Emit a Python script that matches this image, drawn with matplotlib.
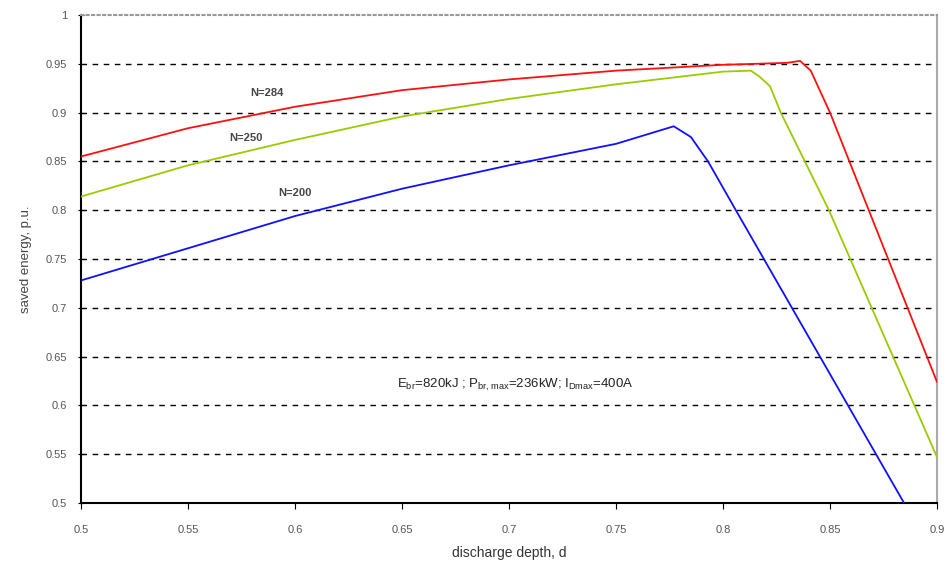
import matplotlib
matplotlib.use('Agg')
import matplotlib.pyplot as plt

plt.rcParams['font.family'] = ['Liberation Sans', 'DejaVu Sans']
plt.rcParams['mathtext.default'] = 'regular'

# N=284
d_284 = [0.5, 0.55, 0.6, 0.65, 0.7, 0.75, 0.8, 0.83, 0.836, 0.841, 0.85, 0.9]
e_284 = [0.855, 0.884, 0.906, 0.923, 0.934, 0.943, 0.949, 0.951, 0.953, 0.943, 0.9, 0.624]
# N=250
d_250 = [0.5, 0.55, 0.6, 0.65, 0.7, 0.75, 0.8, 0.813, 0.817, 0.822, 0.827, 0.8495, 0.9]
e_250 = [0.814, 0.846, 0.872, 0.896, 0.914, 0.929, 0.942, 0.943, 0.937, 0.927, 0.9, 0.8, 0.547]
# N=200
d_200 = [0.5, 0.55, 0.6, 0.65, 0.7, 0.75, 0.777, 0.785, 0.793, 0.806, 0.8846]
e_200 = [0.728, 0.761, 0.794, 0.822, 0.846, 0.868, 0.886, 0.875, 0.85, 0.8, 0.5]

x_ticks = [0.5, 0.55, 0.6, 0.65, 0.7, 0.75, 0.8, 0.85, 0.9]
y_ticks = [0.5, 0.55, 0.6, 0.65, 0.7, 0.75, 0.8, 0.85, 0.9, 0.95, 1]

fig = plt.figure(figsize=(9.48, 5.67), dpi=100)
ax = fig.add_axes([0.0854, 0.1129, 0.9030, 0.8606])

for y in y_ticks[1:-1]:
    ax.axhline(y, color='black', linestyle=(0, (4, 4)), linewidth=1.0, zorder=1)

ax.plot(d_284, e_284, color='#ff1010', linewidth=1.3, zorder=3)
ax.plot(d_250, e_250, color='#99cc00', linewidth=1.3, zorder=3)
ax.plot(d_200, e_200, color='#1010ff', linewidth=1.3, zorder=3)

lab = dict(fontsize=8, fontweight='bold', color='#444444', ha='center', va='center')
ax.text(0.587, 0.92, 'N=284', **lab)
ax.text(0.577, 0.874, 'N=250', **lab)
ax.text(0.600, 0.818, 'N=200', **lab)

ax.text(0.703, 0.621, r'E$_{br}$=820kJ ; P$_{br,max}$=236kW; I$_{Dmax}$=400A',
        fontsize=9.5, color='#222222', ha='center', va='center')

ax.set_xlim(0.5, 0.9)
ax.set_ylim(0.5, 1)
ax.set_xticks(x_ticks)
ax.set_xticklabels(['0.5', '0.55', '0.6', '0.65', '0.7', '0.75', '0.8', '0.85', '0.9'])
ax.set_yticks(y_ticks)
ax.set_yticklabels(['0.5', '0.55', '0.6', '0.65', '0.7', '0.75', '0.8', '0.85', '0.9', '0.95', '1'])
ax.tick_params(axis='both', labelsize=8, labelcolor='#555555', length=4)
ax.tick_params(axis='x', direction='out', pad=12)
ax.tick_params(axis='y', direction='inout', pad=8)

ax.spines['left'].set_color('black')
ax.spines['left'].set_linewidth(1.5)
ax.spines['bottom'].set_color('black')
ax.spines['bottom'].set_linewidth(1.5)
ax.spines['top'].set_color('#999999')
ax.spines['top'].set_linestyle(':')
ax.spines['top'].set_linewidth(1.5)
ax.spines['right'].set_color('#aaaaaa')
ax.spines['right'].set_linewidth(1.5)

ax.set_xlabel('discharge depth, d', fontsize=10, color='#333333', labelpad=8)
ax.set_ylabel('saved energy, p.u.', fontsize=9.5, color='#444444', labelpad=10)

fig.savefig('out.png', dpi=100)
